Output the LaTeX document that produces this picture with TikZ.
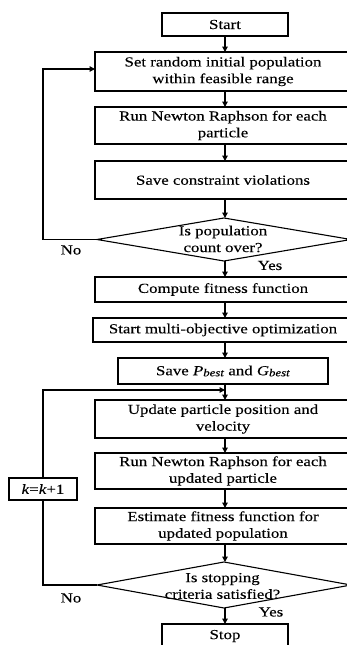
\documentclass[tikz,border=0pt]{standalone}
\usepackage{fontspec}
\setmainfont{Liberation Serif}[FakeStretch=1.22,FakeBold=0.2]
\usetikzlibrary{arrows.meta,shapes.geometric}
\tikzset{
  box/.style={draw, rectangle, line width=1.2pt, inner sep=0pt, outer sep=0pt, align=center,
    font=\fontsize{13.8}{16.7}\selectfont},
  dec/.style={draw, diamond, line width=1.1pt, inner sep=0pt, outer sep=0pt},
  txt/.style={inner sep=0pt, align=center, font=\fontsize{13.8}{16.7}\selectfont},
  arr/.style={line width=1.2pt, -{Triangle[length=5.5pt,width=5.5pt]}},
  ln/.style={line width=1.2pt},
}
\begin{document}
\begin{tikzpicture}[x=1pt,y=-1pt]
\useasboundingbox (0,0) rectangle (346,645);
\node[box, minimum width=126pt, minimum height=23pt] (start) at (225,24.5) {Start};
\node[box, minimum width=256pt, minimum height=39pt] (init) at (223,71.5) {Set random initial population\\within feasible range};
\node[box, minimum width=256pt, minimum height=37pt] (nr1) at (223,125.5) {Run Newton Raphson for each\\particle};
\node[box, minimum width=256pt, minimum height=38pt] (save) at (223,180) {Save constraint violations};
\node[dec, minimum width=254pt, minimum height=43pt] (d1) at (224,239.5) {};
\node[txt] (t1) at (223,239) {Is population\\count over?};
\node[txt] (no1) at (71,250) {No};
\node[txt] (yes1) at (270,265.5) {Yes};
\node[box, minimum width=256pt, minimum height=25pt] (fit) at (223,289.5) {Compute fitness function};
\node[box, minimum width=260pt, minimum height=24pt] (multi) at (223,330) {Start multi-objective optimization};
\node[box, minimum width=210pt, minimum height=26pt] (pbest) at (223,371) {Save \textit{P}\raisebox{-1pt}{\fontsize{10.5}{10.5}\selectfont\textit{best}} and \textit{G}\raisebox{-1pt}{\fontsize{10.5}{10.5}\selectfont\textit{best}}};
\node[box, minimum width=256pt, minimum height=38pt] (update) at (223,419) {Update particle position and\\velocity};
\node[box, minimum width=256pt, minimum height=36pt] (nr2) at (223,471) {Run Newton Raphson for each\\updated particle};
\node[box, minimum width=256pt, minimum height=36pt] (est) at (223,526) {Estimate fitness function for\\updated population};
\node[dec, minimum width=254pt, minimum height=46pt] (d2) at (224,585) {};
\node[txt] (t2) at (222.5,586) {Is stopping\\criteria satisfied?};
\node[txt] (no2) at (71,598) {No};
\node[txt] (yes2) at (271,612) {Yes};
\node[box, minimum width=126pt, minimum height=24pt] (stop) at (225,636) {Stop};
\node[box, minimum width=68pt, minimum height=22pt] (kbox) at (43,489) {\textit{k}=\textit{k}+1};
\coordinate (col) at (225,0);
\coordinate (lx) at (43,0);
\coordinate (j) at (225,390);
\coordinate (iw) at ([yshift=2.5pt]init.west);
\draw[arr] (col |- start.south) -- (col |- init.north);
\draw[arr] (col |- init.south) -- (col |- nr1.north);
\draw[arr] (col |- nr1.south) -- (col |- save.north);
\draw[arr] (col |- save.south) -- (col |- d1.north);
\draw[arr] (col |- d1.south) -- (col |- fit.north);
\draw[arr] (col |- fit.south) -- (col |- multi.north);
\draw[arr] (col |- multi.south) -- (col |- pbest.north);
\draw[arr] (col |- pbest.south) -- (col |- update.north);
\draw[arr] (col |- update.south) -- (col |- nr2.north);
\draw[arr] (col |- nr2.south) -- (col |- est.north);
\draw[arr] (col |- est.south) -- (col |- d2.north);
\draw[arr] (col |- d2.south) -- (col |- stop.north);
\draw[arr] (d1.west) -- (lx |- d1.west) -- (lx |- iw) -- (iw);
\draw[ln] (d2.west) -- (lx |- d2.west) -- (kbox.south);
\draw[arr] (kbox.north) -- (lx |- j) -- (j);
\end{tikzpicture}
\end{document}
